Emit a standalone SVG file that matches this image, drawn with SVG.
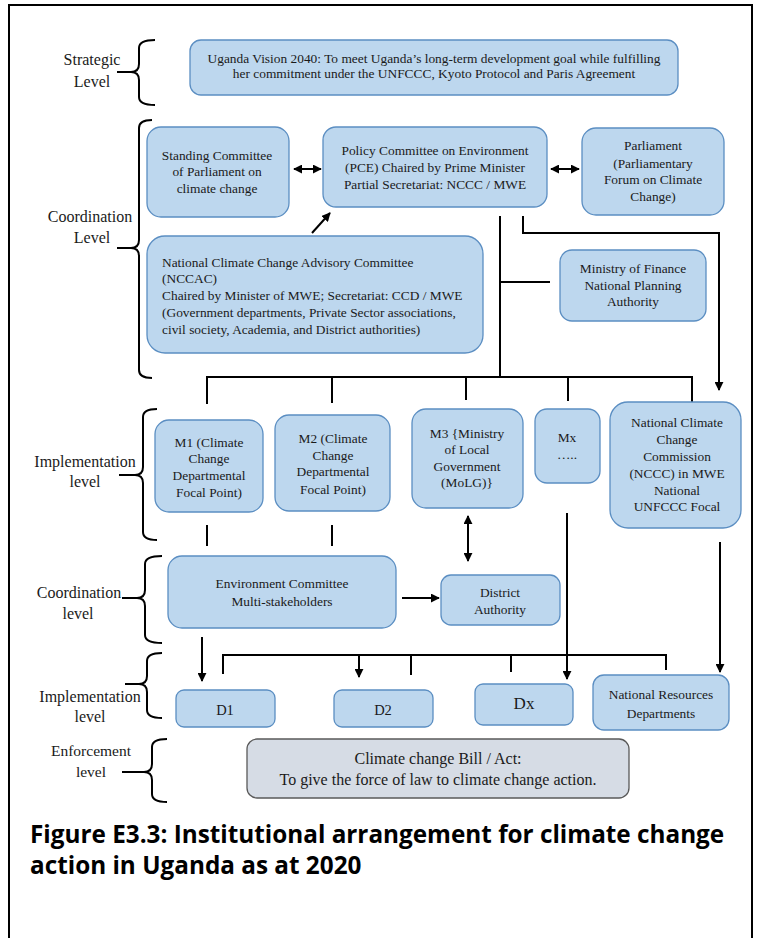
<svg xmlns="http://www.w3.org/2000/svg" width="761" height="938" viewBox="0 0 761 938">
<defs>
<marker id="ah" viewBox="0 0 10 10" refX="9" refY="5" markerWidth="9" markerHeight="9" markerUnits="userSpaceOnUse" orient="auto-start-reverse">
<path d="M0,0 L10,5 L0,10 z" fill="#000"/>
</marker>
<style>
.box{fill:#BDD7EE;stroke:#5B8EC2;stroke-width:1.3}
.gbox{fill:#D6DCE5;stroke:#595959;stroke-width:1.3}
.t{font-size:13.4px;fill:#1a1a1a;text-anchor:middle}
.tl{font-size:13.4px;fill:#1a1a1a}
.lab{font-size:16px;fill:#1a1a1a;text-anchor:middle}
.br{fill:none;stroke:#000;stroke-width:2}
.c{fill:none;stroke:#000;stroke-width:2}
.cap{font-size:24.3px;font-weight:bold;fill:#000}
</style>
</defs>
<rect x="9" y="5" width="743" height="945" fill="#fff" stroke="#000" stroke-width="2"/>

<g font-family="'Liberation Serif', 'Times New Roman', serif">
<g id="levels">
<g id="lvl-strategic">
<text class="lab" x="92" y="65">Strategic</text>
<text class="lab" x="92" y="87">Level</text>
<path class="br" d="M155,40 Q139,40 139,48 L139,64 Q139,72 131,72 Q139,72 139,80 L139,97 Q139,105 155,105 M117,72 L131,72"/>
</g>
<g id="lvl-coord1">
<text class="lab" x="90" y="222">Coordination</text>
<text class="lab" x="92" y="243">Level</text>
<path class="br" d="M152,120 Q139,120 139,128 L139,240 Q139,248 131,248 Q139,248 139,256 L139,370 Q139,378 152,378 M117,248 L131,248"/>
</g>
<g id="lvl-impl1">
<text class="lab" x="85" y="467">Implementation</text>
<text class="lab" x="85" y="487">level</text>
<path class="br" d="M157,409 Q143,409 143,417 L143,467 Q143,475 135,475 Q143,475 143,483 L143,532 Q143,540 157,540 M119,475 L135,475"/>
</g>
<g id="lvl-coord2">
<text class="lab" x="79" y="598">Coordination</text>
<text class="lab" x="78" y="619">level</text>
<path class="br" d="M162,556 Q145,556 145,564 L145,590 Q145,598 137,598 Q145,598 145,606 L145,635 Q145,643 162,643 M122,598 L137,598"/>
</g>
<g id="lvl-impl2">
<text class="lab" x="90" y="702">Implementation</text>
<text class="lab" x="90" y="722">level</text>
<path class="br" d="M162,653 Q147,653 147,661 L147,676 Q147,684 139,684 Q147,684 147,692 L147,710 Q147,718 162,718 M125,684 L139,684"/>
</g>
<g id="lvl-enforce">
<text class="lab" x="91" y="756" style="font-size:15.5px">Enforcement</text>
<text class="lab" x="91" y="777" style="font-size:15.5px">level</text>
<path class="br" d="M167,739 Q152,739 152,747 L152,764 Q152,772 144,772 Q152,772 152,780 L152,794 Q152,802 167,802 M122,772 L144,772"/>
</g>
</g>

<g id="connectors">
<line class="c" x1="294" y1="169" x2="321" y2="169" marker-start="url(#ah)" marker-end="url(#ah)"/>
<line class="c" x1="551" y1="169" x2="579" y2="169" marker-start="url(#ah)" marker-end="url(#ah)"/>
<line class="c" x1="312" y1="233" x2="330" y2="213" marker-end="url(#ah)"/>
<path class="c" d="M500,216 L500,377"/>
<path class="c" d="M500,282 L550,282"/>
<path class="c" d="M523,216 L523,233 L719,233 L719,390" marker-end="url(#ah)"/>
<path class="c" d="M207,404 L207,377 L692,377 L692,404"/>
<path class="c" d="M332,377 L332,403"/>
<path class="c" d="M466,377 L466,400"/>
<path class="c" d="M568,377 L568,401"/>
<path class="c" d="M207,525 L207,546"/>
<path class="c" d="M332,525 L332,546"/>
<line class="c" x1="468" y1="516" x2="468" y2="561" marker-start="url(#ah)" marker-end="url(#ah)"/>
<line class="c" x1="567" y1="513" x2="567" y2="679" marker-end="url(#ah)"/>
<line class="c" x1="720" y1="542" x2="720" y2="672" marker-end="url(#ah)"/>
<line class="c" x1="402" y1="598" x2="439" y2="598" marker-end="url(#ah)"/>
<line class="c" x1="202" y1="637" x2="202" y2="681" marker-end="url(#ah)"/>
<path class="c" d="M223,674 L223,655 L666,655 L666,670"/>
<line class="c" x1="359" y1="655" x2="359" y2="677" marker-end="url(#ah)"/>
<path class="c" d="M411,655 L411,675"/>
<path class="c" d="M511,655 L511,672"/>
</g>

<g id="vision">
<rect class="box" x="190" y="40" width="488" height="55" rx="11"/>
<text class="t" x="434" y="62.5">Uganda Vision 2040: To meet Uganda’s long-term development goal while fulfilling</text>
<text class="t" x="434" y="77.5">her commitment under the UNFCCC, Kyoto Protocol and Paris Agreement</text>
</g>
<g id="standing">
<rect class="box" x="147" y="127" width="142" height="90" rx="14"/>
<text class="t" x="217" y="159.5">Standing Committee</text>
<text class="t" x="217" y="176">of Parliament on</text>
<text class="t" x="217" y="192.5">climate change</text>
</g>
<g id="pce">
<rect class="box" x="323" y="127" width="224" height="80" rx="13"/>
<text class="t" x="435" y="154.5">Policy Committee on Environment</text>
<text class="t" x="435" y="171.5">(PCE) Chaired by Prime Minister</text>
<text class="t" x="435" y="189">Partial Secretariat: NCCC / MWE</text>
</g>
<g id="parliament">
<rect class="box" x="582" y="128" width="142" height="87" rx="14"/>
<text class="t" x="653" y="149.5">Parliament</text>
<text class="t" x="653" y="167.5">(Parliamentary</text>
<text class="t" x="653" y="183.5">Forum on Climate</text>
<text class="t" x="653" y="200.5">Change)</text>
</g>
<g id="nccac">
<rect class="box" x="147" y="236" width="336" height="117" rx="18"/>
<text class="tl" x="162" y="266.5">National Climate Change Advisory Committee</text>
<text class="tl" x="162" y="283">(NCCAC)</text>
<text class="tl" x="162" y="299.5">Chaired by Minister of MWE; Secretariat: CCD / MWE</text>
<text class="tl" x="162" y="316.5">(Government departments, Private Sector associations,</text>
<text class="tl" x="162" y="333.5">civil society, Academia, and District authorities)</text>
</g>
<g id="mof">
<rect class="box" x="560" y="250" width="146" height="71" rx="12"/>
<text class="t" x="633" y="272.5">Ministry of Finance</text>
<text class="t" x="633" y="289.5">National Planning</text>
<text class="t" x="633" y="305.5">Authority</text>
</g>
<g id="m1">
<rect class="box" x="155" y="420" width="108" height="92" rx="14"/>
<text class="t" x="209" y="446.5">M1 (Climate</text>
<text class="t" x="209" y="462.5">Change</text>
<text class="t" x="209" y="479.5">Departmental</text>
<text class="t" x="209" y="496.5">Focal Point)</text>
</g>
<g id="m2">
<rect class="box" x="275" y="415" width="115" height="96" rx="14"/>
<text class="t" x="333" y="442.5">M2 (Climate</text>
<text class="t" x="333" y="459.5">Change</text>
<text class="t" x="333" y="475.5">Departmental</text>
<text class="t" x="333" y="493.5">Focal Point)</text>
</g>
<g id="m3">
<rect class="box" x="412" y="409" width="111" height="99" rx="14"/>
<text class="t" x="467" y="437.5">M3 {Ministry</text>
<text class="t" x="467" y="453.5">of Local</text>
<text class="t" x="467" y="470.5">Government</text>
<text class="t" x="467" y="486.5">(MoLG)}</text>
</g>
<g id="mx">
<rect class="box" x="535" y="409" width="65" height="74" rx="12"/>
<text class="t" x="567" y="441.5">Mx</text>
<text class="t" x="567" y="459">…..</text>
</g>
<g id="nccc">
<rect class="box" x="610" y="402" width="131" height="126" rx="18"/>
<text class="t" x="677" y="426.5">National Climate</text>
<text class="t" x="677" y="444">Change</text>
<text class="t" x="677" y="460.5">Commission</text>
<text class="t" x="677" y="478">(NCCC) in MWE</text>
<text class="t" x="677" y="494.5">National</text>
<text class="t" x="677" y="510.5">UNFCCC Focal</text>
</g>
<g id="envcom">
<rect class="box" x="168" y="556" width="228" height="72" rx="14"/>
<text class="t" x="282" y="587.5">Environment Committee</text>
<text class="t" x="282" y="605.5">Multi-stakeholders</text>
</g>
<g id="district">
<rect class="box" x="441" y="575" width="119" height="50" rx="10"/>
<text class="t" x="500" y="596.5">District</text>
<text class="t" x="500" y="613.5">Authority</text>
</g>
<g id="d1">
<rect class="box" x="176" y="690" width="99" height="37" rx="8"/>
<text class="t" x="225" y="715" style="font-size:14.5px">D1</text>
</g>
<g id="d2">
<rect class="box" x="334" y="690" width="99" height="37" rx="8"/>
<text class="t" x="383" y="715" style="font-size:14.5px">D2</text>
</g>
<g id="dx">
<rect class="box" x="475" y="684" width="98" height="41" rx="8"/>
<text class="t" x="524" y="709" style="font-size:17px">Dx</text>
</g>
<g id="natres">
<rect class="box" x="593" y="675" width="136" height="55" rx="11"/>
<text class="t" x="661" y="698.5">National Resources</text>
<text class="t" x="661" y="717.5">Departments</text>
</g>
<g id="bill">
<rect class="gbox" x="247" y="739" width="382" height="59" rx="10"/>
<text class="t" x="438" y="763.5" style="font-size:16px">Climate change Bill / Act:</text>
<text class="t" x="438" y="784.5" style="font-size:16px">To give the force of law to climate change action.</text>
</g>
</g>

<g id="caption" font-family="'Open Sans', 'Noto Sans', sans-serif">
<text class="cap" x="30" y="843">Figure E3.3: Institutional arrangement for climate change</text>
<text class="cap" x="30" y="874">action in Uganda as at 2020</text>
</g>
</svg>
